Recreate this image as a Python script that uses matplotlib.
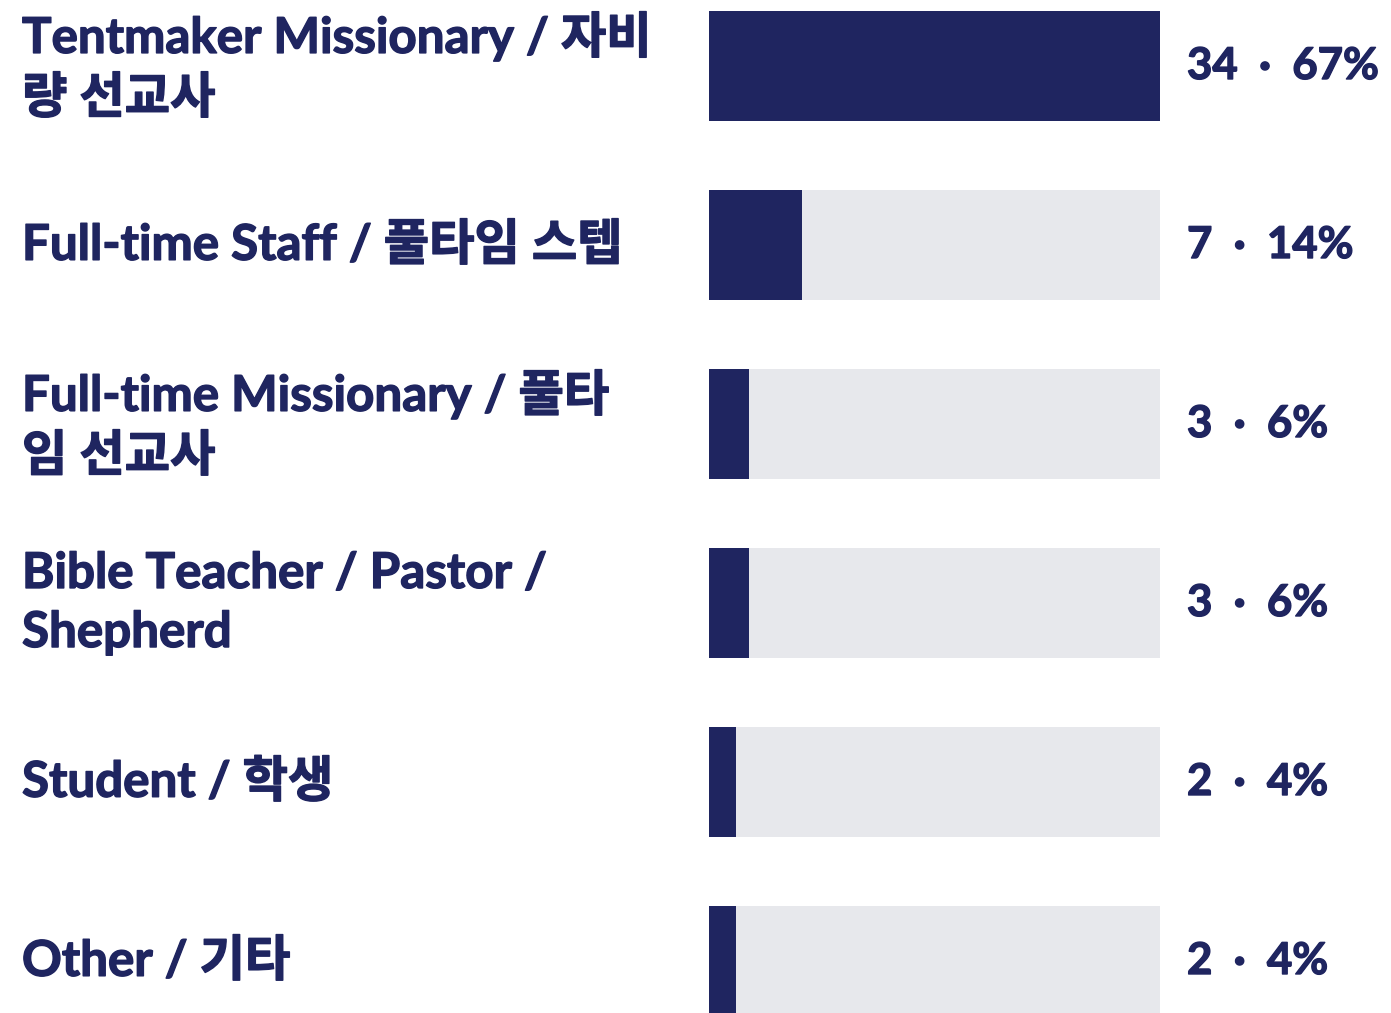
import matplotlib
matplotlib.use("Agg")
import matplotlib.pyplot as plt
import matplotlib.transforms as mtransforms
import matplotlib.patheffects as pe

categories = [
    "Tentmaker Missionary / 자비\n량 선교사",
    "Full-time Staff / 풀타임 스텝",
    "Full-time Missionary / 풀타\n임 선교사",
    "Bible Teacher / Pastor /\nShepherd",
    "Student / 학생",
    "Other / 기타",
]
counts = [34, 7, 3, 3, 2, 2]
percents = [67, 14, 6, 6, 4, 4]

NAVY = "#1f2560"
GRAY = "#e7e8ec"
FONT = ["Lato", "Noto Sans CJK KR", "DejaVu Sans"]
BOLDER = [pe.withStroke(linewidth=1.0, foreground=NAVY)]

W, H = 1391, 1013
fig = plt.figure(figsize=(W / 100, H / 100), dpi=100)
ax = fig.add_axes([709 / W, 0, 451 / W, 1])

ypos = list(range(len(categories)))
vmax = max(counts)
ax.barh(ypos, [vmax] * len(ypos), height=0.62, color=GRAY, left=0)
ax.barh(ypos, counts, height=0.62, color=NAVY, left=0)

ax.set_xlim(0, vmax)
ax.set_ylim((1013 - 66) / 179, -66 / 179)
ax.axis("off")

trans = mtransforms.blended_transform_factory(fig.transFigure, ax.transData)
for y, lab, c, p in zip(ypos, categories, counts, percents):
    fig.text(22 / W, y, lab, transform=trans, ha="left", va="center",
             fontsize=35.5, fontweight="bold", color=NAVY, family=FONT,
             linespacing=1.38, path_effects=BOLDER)
    fig.text(1187 / W, y, f"{c}  \u00b7  {p}%", transform=trans, ha="left",
             va="center", fontsize=31.5, fontweight="bold", color=NAVY,
             family=FONT, path_effects=BOLDER)

fig.savefig("out.png", dpi=100)
